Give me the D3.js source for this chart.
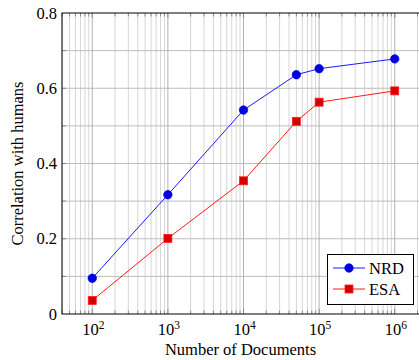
<!DOCTYPE html>
<html>
<head>
<meta charset="utf-8">
<script src="https://cdn.jsdelivr.net/npm/d3@7"></script>
<style>
  body { margin: 0; background: #fff; }
  text { font-family: "Liberation Serif", "DejaVu Serif", serif; fill: #000; }
</style>
</head>
<body>
<div id="vis"></div>
<script>
// data
var docs = [100, 1000, 10000, 50000, 100000, 1000000];
var nrd = [0.095, 0.317, 0.542, 0.636, 0.652, 0.678];
var esa = [0.036, 0.201, 0.354, 0.512, 0.563, 0.593];
var yTicks = [0, 0.2, 0.4, 0.6, 0.8];
var xTicks = [100, 1000, 10000, 100000, 1000000];
var seriesNames = ["NRD", "ESA"];

var width = 419, height = 360;
var margin = {top: 13, left: 62, bottom: 46};
var plotRight = 425; // frame runs a little past the window edge

var svg = d3.select("#vis").append("svg")
    .attr("width", width)
    .attr("height", height);

var x = d3.scaleLog()
    .domain([Math.pow(10, 1.6), Math.pow(10, 6.4)])
    .range([margin.left, plotRight]);

var y = d3.scaleLinear()
    .domain([0, 0.8])
    .range([height - margin.bottom, margin.top]);

var x0 = margin.left, x1 = plotRight, y0 = y(0), y1 = y(0.8);

// minor log grid
var minor = [];
for (var e = 1; e <= 6; e++) {
    for (var m = 2; m <= 9; m++) {
        var v = m * Math.pow(10, e);
        if (v > x.domain()[0] && v < x.domain()[1]) minor.push(v);
    }
}

var grid = svg.append("g");
grid.selectAll(".vminor").data(minor).join("line")
    .attr("x1", d => x(d)).attr("x2", d => x(d))
    .attr("y1", y1).attr("y2", y0)
    .attr("stroke", "#d6d6d6").attr("stroke-width", 1);

grid.selectAll(".hgrid").data(d3.range(1, 8).map(d => d / 10)).join("line")
    .attr("x1", x0).attr("x2", x1)
    .attr("y1", d => y(d)).attr("y2", d => y(d))
    .attr("stroke", "#bdbdbd").attr("stroke-width", 1);

grid.selectAll(".vmajor").data(xTicks).join("line")
    .attr("x1", d => x(d)).attr("x2", d => x(d))
    .attr("y1", y1).attr("y2", y0)
    .attr("stroke", "#b3b3b3").attr("stroke-width", 1);

// inner tick marks
var ticks = svg.append("g").attr("stroke", "#777").attr("stroke-width", 0.8);
minor.concat(xTicks).forEach(function (d) {
    var len = xTicks.indexOf(d) >= 0 ? 5 : 3.5;
    ticks.append("line").attr("x1", x(d)).attr("x2", x(d)).attr("y1", y0).attr("y2", y0 - len);
    ticks.append("line").attr("x1", x(d)).attr("x2", x(d)).attr("y1", y1).attr("y2", y1 + len);
});
d3.range(1, 8).map(d => d / 10).forEach(function (d) {
    ticks.append("line").attr("x1", x0).attr("x2", x0 + 4).attr("y1", y(d)).attr("y2", y(d));
});

// frame
svg.append("rect")
    .attr("x", x0).attr("y", y1)
    .attr("width", x1 - x0).attr("height", y0 - y1)
    .attr("fill", "none").attr("stroke", "#000").attr("stroke-width", 1);

// y tick labels
svg.append("g").selectAll("text").data(yTicks).join("text")
    .attr("x", x0 - 5)
    .attr("y", d => y(d) + 5.5)
    .attr("text-anchor", "end")
    .attr("font-size", 16.5)
    .text(d => d === 0 ? "0" : d3.format(".1f")(d));

// x tick labels 10^n
var xl = svg.append("g").selectAll("text").data(xTicks).join("text")
    .attr("x", d => x(d) + 1)
    .attr("y", y0 + 21)
    .attr("text-anchor", "middle")
    .attr("font-size", 16.5);
xl.append("tspan").text("10");
xl.append("tspan").attr("dy", -6).attr("font-size", 11.5)
    .text(d => Math.round(Math.log10(d)));

// axis titles
svg.append("text")
    .attr("x", (62 + 419) / 2)
    .attr("y", 355)
    .attr("text-anchor", "middle")
    .attr("font-size", 16.5)
    .text("Number of Documents");

svg.append("text")
    .attr("transform", "translate(23," + ((y0 + y1) / 2) + ") rotate(-90)")
    .attr("text-anchor", "middle")
    .attr("font-size", 16.5)
    .text("Correlation with humans");

// series
var series = [
    {name: seriesNames[0], values: nrd, line: "#0000ff", fill: "#0000dd", stroke: "#0000ff", shape: "circle"},
    {name: seriesNames[1], values: esa, line: "#ff0000", fill: "#d40000", stroke: "#ff2020", shape: "square"}
];

var line = d3.line().x(d => x(d[0])).y(d => y(d[1]));

function marker(g, s, cx, cy) {
    if (s.shape === "circle") {
        g.append("circle").attr("cx", cx).attr("cy", cy).attr("r", 4.2)
            .attr("fill", s.fill).attr("stroke", s.stroke).attr("stroke-width", 0.8);
    } else {
        g.append("rect").attr("x", cx - 4).attr("y", cy - 4).attr("width", 8).attr("height", 8)
            .attr("fill", s.fill).attr("stroke", s.stroke).attr("stroke-width", 0.8);
    }
}

series.forEach(function (s) {
    var pts = docs.map((d, i) => [d, s.values[i]]);
    svg.append("path").attr("d", line(pts))
        .attr("fill", "none").attr("stroke", s.line).attr("stroke-width", 0.9);
    var g = svg.append("g");
    pts.forEach(p => marker(g, s, x(p[0]), y(p[1])));
});

// legend
var lg = svg.append("g");
lg.append("rect")
    .attr("x", 327.5).attr("y", 254.5).attr("width", 86).attr("height", 50)
    .attr("fill", "#fff").attr("stroke", "#000").attr("stroke-width", 1);
series.forEach(function (s, i) {
    var cy = 268 + i * 21;
    lg.append("line").attr("x1", 333).attr("x2", 365).attr("y1", cy).attr("y2", cy)
        .attr("stroke", s.line).attr("stroke-width", 0.9);
    marker(lg, s, 349, cy);
    lg.append("text").attr("x", 369).attr("y", cy + 6).attr("font-size", 16.5).text(s.name);
});
</script>
</body>
</html>
